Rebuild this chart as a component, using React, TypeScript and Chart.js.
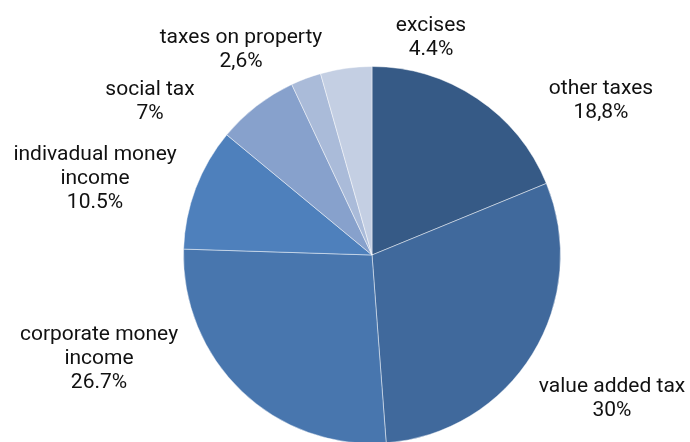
import React, { useEffect, useRef } from "react";
import { Chart, registerables } from "chart.js";

Chart.register(...registerables);

const categories = [
  ["other taxes"],
  ["value added tax"],
  ["corporate money", "income"],
  ["indivadual money", "income"],
  ["social tax"],
  ["taxes on property"],
  ["excises"],
];
const values = [18.8, 30, 26.7, 10.5, 7, 2.6, 4.4];
const valueLabels = ["18,8%", "30%", "26.7%", "10.5%", "7%", "2,6%", "4.4%"];
const colors = ["#365a86", "#40699c", "#4876ae", "#4e80bc", "#87a1cc", "#aabbd9", "#c4cfe3"];

// label anchor offsets (center of text, first-line baseline) relative to pie center, in px
const labelOffsets: [number, number][] = [
  [229, -161],
  [240, 137],
  [-273, 85],
  [-277, -95],
  [-222, -160],
  [-131, -212],
  [59, -224],
];

const FONT_SIZE = 21;
const LINE_H = 23.8;

const labelPlugin = {
  id: "outerLabels",
  afterDraw(chart: any) {
    const ctx = chart.ctx;
    const meta = chart.getDatasetMeta(0);
    ctx.save();
    ctx.font = `${FONT_SIZE}px Roboto`;
    ctx.fillStyle = "#111111";
    ctx.textAlign = "center";
    ctx.textBaseline = "alphabetic";
    meta.data.forEach((arc: any, i: number) => {
      const lines = [...categories[i], valueLabels[i]];
      const [dx, dy] = labelOffsets[i];
      const x = arc.x + dx;
      const y = arc.y + dy;
      lines.forEach((t, k) => ctx.fillText(t, x, y + k * LINE_H));
    });
    ctx.restore();
  },
};

export default function App() {
  const ref = useRef<HTMLCanvasElement>(null);
  useEffect(() => {
    if (!ref.current) return;
    const chart = new Chart(ref.current, {
      type: "pie",
      data: {
        labels: categories.map((c) => c.join(" ")),
        datasets: [
          {
            data: values,
            backgroundColor: colors,
            borderColor: "rgba(255,255,255,0.45)",
            borderWidth: 1,
          },
        ],
      },
      options: {
        animation: false,
        responsive: false,
        layout: { padding: { left: 183, right: 129, top: 66, bottom: 16 } },
        plugins: { legend: { display: false }, tooltip: { enabled: false } },
      },
      plugins: [labelPlugin],
    });
    return () => chart.destroy();
  }, []);
  return (
    <div
      style={{
        position: "fixed",
        left: 0,
        top: 0,
        width: 690,
        height: 442,
        overflow: "hidden",
        background: "#ffffff",
      }}
    >
      <canvas ref={ref} width={690} height={460} style={{ display: "block" }} />
    </div>
  );
}
